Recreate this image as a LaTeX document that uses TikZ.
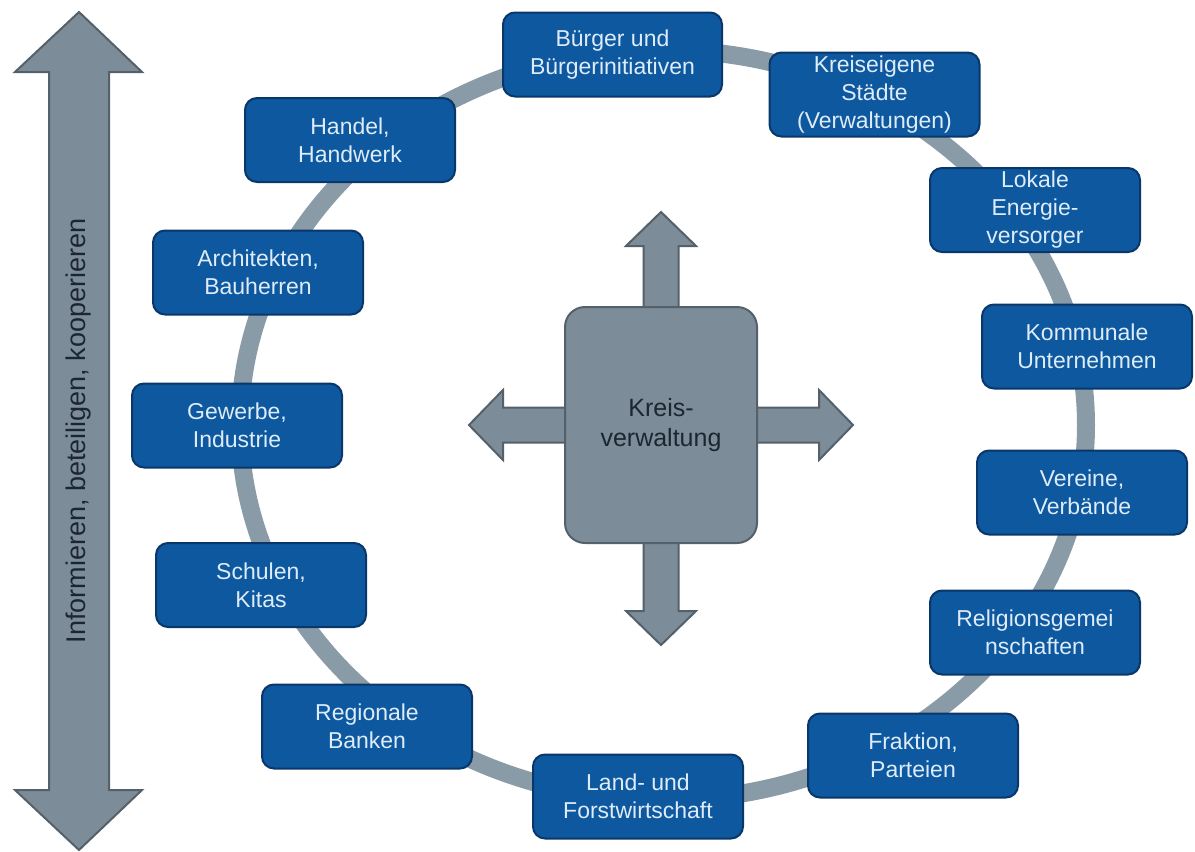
\documentclass[tikz,border=0pt]{standalone}
\usepackage{fontspec}
\setmainfont{Liberation Sans}
\usepackage{tikz}
\definecolor{boxblue}{RGB}{13,88,158}
\definecolor{boxedge}{RGB}{10,55,105}
\definecolor{boxtext}{RGB}{222,236,250}
\definecolor{ringgray}{RGB}{138,155,168}
\definecolor{arrgray}{RGB}{124,141,153}
\definecolor{arredge}{RGB}{84,96,106}
\definecolor{hubtext}{RGB}{28,38,48}

\begin{document}
\begin{tikzpicture}[
  x=0.5pt, y=-0.5pt,
  font=\fontsize{11.5}{14}\selectfont,
  box/.style={draw=boxedge, fill=boxblue, text=boxtext, line width=1pt,
              rounded corners=6pt, align=center, inner sep=1pt,
              minimum width=105pt, minimum height=42pt},
  wide/.style={box, minimum width=109.5pt},
  hub/.style={draw=arredge, fill=arrgray, text=hubtext, line width=1pt,
              rounded corners=10pt, align=center, minimum width=96pt,
              minimum height=118pt, font=\fontsize{12.5}{15}\selectfont},
  bigarrow/.style={draw=arredge, fill=arrgray, line width=1pt, line join=miter},
  ring/.style={draw=ringgray, line width=9pt}]
\useasboundingbox (0,0) rectangle (1195,852);
\draw[ring] (663,425) ellipse [x radius=211.5pt, y radius=187.5pt];
\draw[bigarrow] (79,12) -- (142,72) -- (109,72) -- (109,790) -- (142,790) -- (79,850)
  -- (15,790) -- (49,790) -- (49,72) -- (15,72) -- cycle;
\node[rotate=90, text=hubtext, font=\fontsize{13.5}{16}\selectfont] (motto) at (79,431)
  {Informieren, beteiligen, kooperieren};
\foreach \ang/\tip in {0/192, 90/213, 180/192, 270/220}
  \draw[bigarrow, shift={(661,425)}, rotate=\ang] (0,-17.5) -- (\tip-34,-17.5)
    -- (\tip-34,-35) -- (\tip,0) -- (\tip-34,35) -- (\tip-34,17.5) -- (0,17.5) -- cycle;
\node[hub] (kv) at (661,425) {Kreis-\\verwaltung};
\node[wide] (buerger) at (612.5,54.5) {Bürger und\\Bürgerinitiativen};
\node[box] (staedte) at (874.5,94.5) {Kreiseigene\\Städte\\(Verwaltungen)};
\node[box] (energie) at (1035,210) {Lokale\\Energie-\\versorger};
\node[box] (unternehmen) at (1087,346.5) {Kommunale\\Unternehmen};
\node[box] (vereine) at (1082,492.5) {Vereine,\\Verbände};
\node[box] (religion) at (1035,632.5) {Religionsgemei\\nschaften};
\node[box] (fraktion) at (913,755.5) {Fraktion,\\Parteien};
\node[box] (land) at (638,796.5) {Land- und\\Forstwirtschaft};
\node[box] (banken) at (367,726.5) {Regionale\\Banken};
\node[box] (schulen) at (261,585) {Schulen,\\Kitas};
\node[box] (gewerbe) at (237,425.5) {Gewerbe,\\Industrie};
\node[box] (architekten) at (258,272.5) {Architekten,\\Bauherren};
\node[box] (handel) at (350,140) {Handel,\\Handwerk};
\end{tikzpicture}
\end{document}
